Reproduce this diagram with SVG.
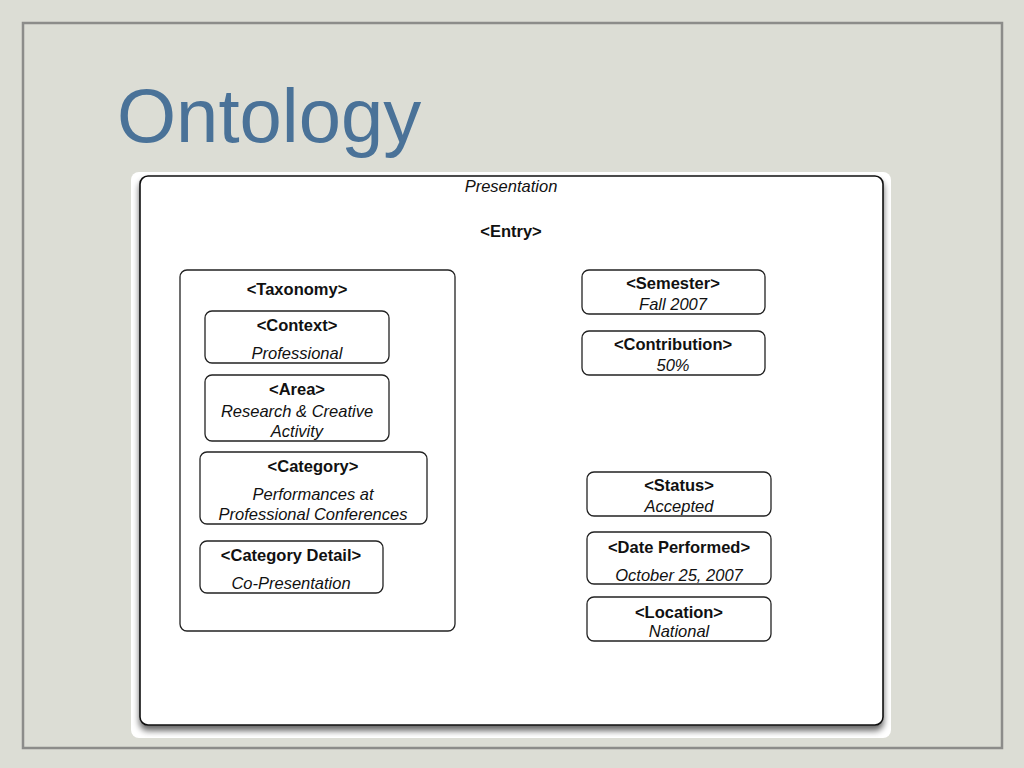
<svg xmlns="http://www.w3.org/2000/svg" width="1024" height="768" viewBox="0 0 1024 768">
<defs>
<style>
.box{fill:#fff;stroke:#222;stroke-width:1.3}
.b{font-family:"Liberation Sans",Arial,sans-serif;font-weight:bold;font-size:16.5px;fill:#111;text-anchor:middle}
.i{font-family:"Liberation Sans",Arial,sans-serif;font-style:italic;font-size:16.5px;fill:#111;text-anchor:middle}
</style>
<filter id="sh" x="-5%" y="-5%" width="110%" height="110%">
<feGaussianBlur in="SourceAlpha" stdDeviation="3"/>
<feOffset dx="0" dy="5" result="o"/>
<feComponentTransfer><feFuncA type="linear" slope="0.6"/></feComponentTransfer>
<feMerge><feMergeNode/><feMergeNode in="SourceGraphic"/></feMerge>
</filter>
</defs>
<rect x="0" y="0" width="1024" height="768" fill="#dcddd5"/>
<rect x="23" y="23" width="979" height="725" fill="none" stroke="#8c8c8a" stroke-width="2.5"/>
<text x="117" y="142" font-family="'Liberation Sans',Arial,sans-serif" font-size="76" fill="#4a7298">Ontology</text>
<rect x="131" y="172" width="760" height="566" rx="8" fill="#fff"/>
<g id="presentation">
<rect x="140" y="176" width="743" height="549" rx="8" fill="#fff" stroke="#111" stroke-width="1.6" filter="url(#sh)"/>
<text class="i" x="511" y="192" font-size="15.5">Presentation</text>
</g>
<g id="entry"><text class="b" x="511" y="237">&lt;Entry&gt;</text></g>
<g id="taxonomy">
<rect class="box" x="180" y="270" width="275" height="361" rx="7"/>
<text class="b" x="297" y="295">&lt;Taxonomy&gt;</text>
</g>
<g id="context">
<rect class="box" x="205" y="311" width="184" height="52" rx="7"/>
<text class="b" x="297" y="331">&lt;Context&gt;</text>
<text class="i" x="297" y="359">Professional</text>
</g>
<g id="area">
<rect class="box" x="205" y="375" width="184" height="66" rx="7"/>
<text class="b" x="297" y="395">&lt;Area&gt;</text>
<text class="i" x="297" y="417">Research &amp; Creative</text>
<text class="i" x="297" y="437">Activity</text>
</g>
<g id="category">
<rect class="box" x="200" y="452" width="227" height="72" rx="7"/>
<text class="b" x="313" y="472">&lt;Category&gt;</text>
<text class="i" x="313" y="500">Performances at</text>
<text class="i" x="313" y="520">Professional Conferences</text>
</g>
<g id="categorydetail">
<rect class="box" x="200" y="541" width="183" height="52" rx="7"/>
<text class="b" x="291" y="561">&lt;Category Detail&gt;</text>
<text class="i" x="291" y="589">Co-Presentation</text>
</g>
<g id="semester">
<rect class="box" x="582" y="270" width="183" height="44" rx="7"/>
<text class="b" x="673" y="289">&lt;Semester&gt;</text>
<text class="i" x="673" y="310">Fall 2007</text>
</g>
<g id="contribution">
<rect class="box" x="582" y="331" width="183" height="44" rx="7"/>
<text class="b" x="673" y="350">&lt;Contribution&gt;</text>
<text class="i" x="673" y="371">50%</text>
</g>
<g id="status">
<rect class="box" x="587" y="472" width="184" height="44" rx="7"/>
<text class="b" x="679" y="491">&lt;Status&gt;</text>
<text class="i" x="679" y="512">Accepted</text>
</g>
<g id="dateperformed">
<rect class="box" x="587" y="532" width="184" height="52" rx="7"/>
<text class="b" x="679" y="553">&lt;Date Performed&gt;</text>
<text class="i" x="679" y="581">October 25, 2007</text>
</g>
<g id="location">
<rect class="box" x="587" y="597" width="184" height="44" rx="7"/>
<text class="b" x="679" y="618">&lt;Location&gt;</text>
<text class="i" x="679" y="637">National</text>
</g>
<g id="connectors"/>
</svg>
